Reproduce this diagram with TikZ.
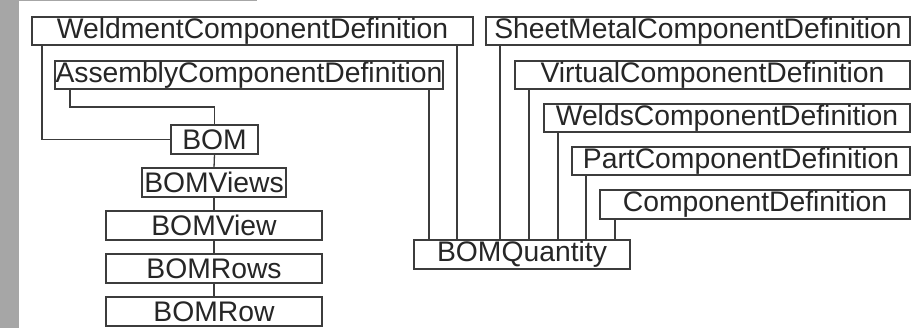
\documentclass[tikz,border=0pt]{standalone}
\usepackage{fontspec}
\setmainfont{Liberation Sans}
\definecolor{bandgray}{RGB}{166,166,166}
\definecolor{linegray}{RGB}{60,60,60}
\begin{document}
\begin{tikzpicture}[x=1pt,y=-1pt,
  cls/.style={draw=linegray,line width=1.3pt,inner sep=0pt,outer sep=0pt,rectangle,
    font=\fontsize{28.3}{29}\selectfont,text=black!85},
  link/.style={draw=linegray,line width=1.3pt}]
\useasboundingbox (0,0) rectangle (920,328);
\fill[white] (0,0) rectangle (920,328);
\fill[bandgray] (0,0) rectangle (19,328);
\fill[bandgray] (19,0) rectangle (257,1.2);
% helper macro for boxes: minimum width/height and centre
\newcommand{\clsbox}[6]{\node[cls,minimum width=#3-#2,minimum height=#5-#4] (#1) at ({(#2+#3)/2},{(#4+#5)/2}) {#6};}
\clsbox{weld}{32}{473}{17}{45}{WeldmentComponentDefinition}
\clsbox{asm}{55}{443}{61}{89}{AssemblyComponentDefinition}
\clsbox{bom}{171}{258}{125}{154}{BOM}
\clsbox{views}{142}{286}{168}{197}{BOMViews}
\clsbox{view}{106}{322}{211}{240}{BOMView}
\clsbox{rows}{106}{322}{254}{283}{BOMRows}
\clsbox{row}{106}{322}{297}{326}{BOMRow}
\clsbox{sheet}{486}{910}{17}{45}{SheetMetalComponentDefinition}
\clsbox{virt}{515}{910}{61}{89}{VirtualComponentDefinition}
\clsbox{welds}{544}{910}{104}{132}{WeldsComponentDefinition}
\clsbox{part}{572}{910}{147}{175}{PartComponentDefinition}
\clsbox{comp}{600}{910}{190}{219}{ComponentDefinition}
\clsbox{qty}{414}{630}{240}{269}{BOMQuantity}
% left tree
\draw[link] (weld.south west) ++(10,0) |- (bom.west);
\draw[link] (asm.south west) ++(15,0) -- ++(0,18) -| (bom.north);
\draw[link] (bom.south) -- (views.north);
\draw[link] (views.south) -- (view.north);
\draw[link] (view.south) -- (rows.north);
\draw[link] (rows.south) -- (row.north);
% right fan-in
\draw[link] (qty.north west) ++(15,0) coordinate (q1) -- (q1 |- asm.south);
\draw[link] (qty.north west) ++(43,0) coordinate (q2) -- (q2 |- weld.south);
\draw[link] (qty.north west) ++(86,0) coordinate (q3) -- (q3 |- sheet.south);
\draw[link] (qty.north west) ++(115,0) coordinate (q4) -- (q4 |- virt.south);
\draw[link] (qty.north west) ++(144,0) coordinate (q5) -- (q5 |- welds.south);
\draw[link] (qty.north west) ++(172,0) coordinate (q6) -- (q6 |- part.south);
\draw[link] (qty.north west) ++(201,0) coordinate (q7) -- (q7 |- comp.south);
\end{tikzpicture}
\end{document}
